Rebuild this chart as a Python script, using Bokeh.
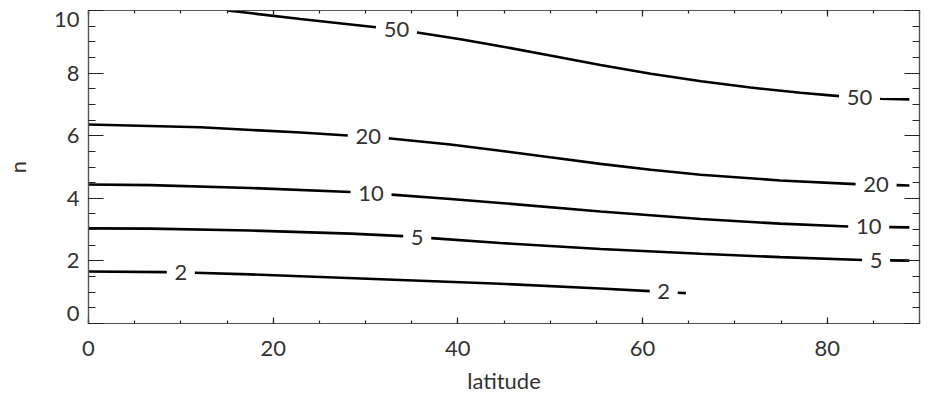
import numpy as np
from bokeh.plotting import figure
from bokeh.models import LinearAxis, SingleIntervalTicker, FixedTicker, Range1d
from bokeh.core.properties import value
from bokeh.embed import file_html
from bokeh.resources import INLINE

# Contour levels and their traced paths (latitude in degrees, n)
levels = [2, 5, 10, 20, 50]

lat_2 = [0.0, 8.3, 11.4, 17.5, 23.0, 33.8, 44.6, 55.45, 61.1, 64.7]
n_2 = [1.66, 1.64, 1.62, 1.57, 1.51, 1.39, 1.27, 1.12, 1.03, 0.97]

lat_5 = [0.0, 6.7, 17.5, 28.4, 34.1, 37.0, 44.6, 55.45, 66.3, 74.9, 83.9, 88.9]
n_5 = [3.04, 3.03, 2.97, 2.87, 2.79, 2.73, 2.57, 2.38, 2.23, 2.12, 2.03, 2.01]

lat_10 = [0.0, 6.7, 17.5, 28.4, 32.7, 39.2, 44.6, 55.45, 66.3, 74.9, 82.3, 88.9]
n_10 = [4.44, 4.42, 4.33, 4.20, 4.12, 3.98, 3.85, 3.58, 3.34, 3.19, 3.10, 3.07]

lat_20 = [0.0, 12.1, 23.0, 28.4, 32.7, 39.2, 44.6, 50.0, 55.45, 60.9, 66.3, 74.9, 83.3, 88.9]
n_20 = [6.36, 6.27, 6.10, 6.00, 5.91, 5.72, 5.52, 5.31, 5.10, 4.91, 4.75, 4.57, 4.45, 4.41]

lat_50 = [15.05, 22.96, 31.3, 35.6, 40.3, 44.6, 50.0, 55.45, 60.9, 66.35, 71.7, 77.1, 81.4, 85.8, 88.9]
n_50 = [10.0, 9.73, 9.46, 9.30, 9.08, 8.86, 8.56, 8.26, 7.98, 7.74, 7.54, 7.37, 7.26, 7.18, 7.16]

# Latitudes at which each contour carries its level label
label_lat_2 = [10.0, 62.3]
label_lat_5 = [35.6, 85.3]
label_lat_10 = [30.6, 84.5]
label_lat_20 = [30.3, 85.3]
label_lat_50 = [33.35, 83.5]

x_ticks = [0, 20, 40, 60, 80]
y_ticks = [0, 2, 4, 6, 8, 10]

contours = [
    (2, lat_2, n_2, label_lat_2),
    (5, lat_5, n_5, label_lat_5),
    (10, lat_10, n_10, label_lat_10),
    (20, lat_20, n_20, label_lat_20),
    (50, lat_50, n_50, label_lat_50),
]

FONT = "Lato"
TEXT_COLOR = "#333333"
FRAME_COLOR = "#555555"
FONT_SIZE = "22px"

W, H = 932, 398
BORDER_L, BORDER_R, BORDER_T, BORDER_B = 88, 13, 10, 75
Y_MIN, Y_MAX = 0, 10

p = figure(
    width=W, height=H,
    x_range=Range1d(0, 90), y_range=Range1d(Y_MIN, Y_MAX),
    output_backend="svg", toolbar_location=None,
    min_border_left=BORDER_L, min_border_right=BORDER_R,
    min_border_top=BORDER_T, min_border_bottom=BORDER_B,
    background_fill_color="white", border_fill_color="white",
)
p.grid.visible = False
p.outline_line_color = FRAME_COLOR
p.outline_line_width = 1.2

# Pixel scales of the plot frame
px_per_deg = (W - BORDER_L - BORDER_R) / 90.0
px_per_n = (H - BORDER_T - BORDER_B) / (Y_MAX - Y_MIN)


def split_at_labels(lat, n, centers, texts):
    lat = np.asarray(lat, dtype=float)
    n = np.asarray(n, dtype=float)
    edges = [lat[0]]
    for c, t in sorted(zip(centers, texts)):
        half = (6.5 * len(t) + 7.5) / px_per_deg
        edges += [c - half, c + half]
    edges.append(lat[-1])
    xs, ys = [], []
    for a, b in zip(edges[0::2], edges[1::2]):
        b = min(b, lat[-1])
        if b <= a:
            continue
        inner = lat[(lat > a) & (lat < b)]
        px = np.concatenate([[a], inner, [b]])
        xs.append(px.tolist())
        ys.append(np.interp(px, lat, n).tolist())
    return xs, ys


for level, lat, n, lab_lat in contours:
    texts = [str(level)] * len(lab_lat)
    xs, ys = split_at_labels(lat, n, lab_lat, texts)
    p.multi_line(xs, ys, line_color="black", line_width=2.6)
    lab_n = np.interp(lab_lat, lat, n)
    p.text(x=list(lab_lat), y=list(lab_n), text=texts,
           text_align="center", text_baseline="middle",
           text_font=value(FONT), text_font_size=FONT_SIZE, text_color=TEXT_COLOR)


def style_axis(ax, tick_len):
    ax.axis_line_color = FRAME_COLOR
    ax.axis_line_width = 1.2
    ax.major_tick_line_color = "#222222"
    ax.minor_tick_line_color = "#222222"
    ax.major_tick_line_width = 1.2
    ax.minor_tick_line_width = 1.2
    ax.major_tick_in = tick_len
    ax.major_tick_out = 0
    ax.minor_tick_in = tick_len // 2
    ax.minor_tick_out = 0
    ax.major_label_text_font = FONT
    ax.major_label_text_color = TEXT_COLOR
    ax.major_label_text_font_size = FONT_SIZE
    ax.axis_label_text_font = FONT
    ax.axis_label_text_color = TEXT_COLOR
    ax.axis_label_text_font_size = FONT_SIZE
    ax.axis_label_text_font_style = "normal"


def hide_labels(ax):
    ax.major_label_text_color = None
    ax.major_label_text_font_size = "1px"
    ax.major_label_standoff = 0


y_minor = np.arange(Y_MIN, Y_MAX + 0.01, 0.5).tolist()

xa = p.xaxis[0]
xa.ticker = SingleIntervalTicker(interval=20, num_minor_ticks=4)
xa.axis_label = "latitude"
style_axis(xa, 6)
xa.major_label_standoff = 17
xa.axis_label_standoff = 8

# Left side: the first axis draws the tick marks only ...
ya = p.yaxis[0]
ya.ticker = FixedTicker(ticks=y_ticks, minor_ticks=y_minor)
style_axis(ya, 15)
hide_labels(ya)

# ... and a second one carries the numbers, the end ones kept inside the frame
label_pos = [float(v) for v in y_ticks]
label_pos[0] += 10 / px_per_n
label_pos[-1] -= 9 / px_per_n
ylab = LinearAxis(
    ticker=FixedTicker(ticks=label_pos, minor_ticks=[]),
    major_label_overrides={pos: str(v) for pos, v in zip(label_pos, y_ticks)},
    axis_label="n",
)
style_axis(ylab, 0)
ylab.axis_line_color = None
ylab.major_tick_line_color = None
ylab.minor_tick_line_color = None
ylab.major_label_standoff = 9
ylab.axis_label_standoff = 20
p.add_layout(ylab, "left")

top = LinearAxis(ticker=SingleIntervalTicker(interval=20, num_minor_ticks=4))
style_axis(top, 6)
hide_labels(top)
p.add_layout(top, "above")

right = LinearAxis(ticker=FixedTicker(ticks=y_ticks, minor_ticks=y_minor))
style_axis(right, 15)
hide_labels(right)
p.add_layout(right, "right")

open("out.html", "w").write(file_html(p, INLINE))
